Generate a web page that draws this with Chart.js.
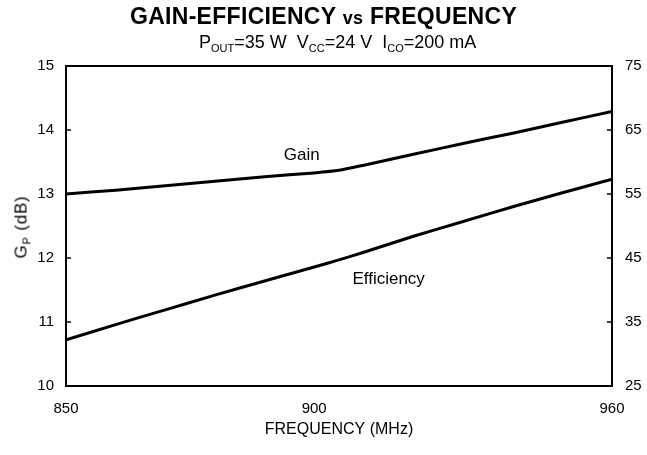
<!DOCTYPE html>
<html>
<head>
<meta charset="utf-8">
<script src="https://cdn.jsdelivr.net/npm/chart.js@4"></script>
<style>
  html, body { margin: 0; padding: 0; background: #fff; }
  #wrap { position: relative; width: 647px; height: 455px; font-family: "Liberation Sans", Arial, sans-serif; color: #000; }
  #chart { position: absolute; left: 0; top: 0; }
  #title { position: absolute; left: 0; width: 647px; top: 3px; text-align: center; font-weight: bold; font-size: 23px; letter-spacing: 0.3px; }
  #title .vs { font-size: 18px; }
  #sub { position: absolute; left: 199px; top: 32px; font-size: 18px; white-space: nowrap; }
  #sub sub { font-size: 11px; vertical-align: -4px; }
  #ytitle { position: absolute; left: 22px; top: 227px; font-size: 17px; letter-spacing: 0.8px; white-space: nowrap; transform: translate(-50%, -50%) rotate(-90deg); }
  #ytitle sub { font-size: 11px; vertical-align: -4px; }
</style>
</head>
<body>
<div id="wrap">
  <canvas id="chart" width="647" height="455"></canvas>
  <div id="title">GAIN-EFFICIENCY <span class="vs">vs</span> FREQUENCY</div>
  <div id="sub">P<sub>OUT</sub>=35 W&nbsp; V<sub>CC</sub>=24 V&nbsp; I<sub>CO</sub>=200 mA</div>
  <div id="ytitle">G<sub>P</sub> (dB)</div>
</div>
<script>
// frequency in MHz
const freq = [850, 860, 870, 880, 890, 900, 905, 910, 920, 930, 940, 950, 960];
// power gain, dB (left axis)
const gain = [13.0, 13.06, 13.13, 13.2, 13.27, 13.33, 13.37, 13.45, 13.62, 13.79, 13.95, 14.12, 14.29];
// collector efficiency, % (right axis)
const eff = [32.2, 34.6, 36.9, 39.2, 41.4, 43.6, 44.7, 45.9, 48.4, 50.7, 53.0, 55.2, 57.3];

const xTicks = [850, 900, 960];
const curveLabels = [
  { text: 'Gain', x: 897.5, y: 13.6, axis: 'y' },
  { text: 'Efficiency', x: 915, y: 41.6, axis: 'y1' }
];

const tickFont = { family: '"Liberation Sans", Arial, sans-serif', size: 15 };

// frame round the plot, inward tick marks, curve names
const framePlugin = {
  id: 'frame',
  afterDraw(chart) {
    const ctx = chart.ctx;
    const a = chart.chartArea;
    ctx.save();
    ctx.strokeStyle = '#000';
    ctx.lineWidth = 2;
    ctx.strokeRect(a.left, a.top, a.right - a.left, a.bottom - a.top);

    ctx.lineWidth = 1.5;
    const ys = chart.scales.y;
    ys.ticks.forEach(t => {
      const py = ys.getPixelForValue(t.value);
      ctx.beginPath();
      ctx.moveTo(a.left, py);
      ctx.lineTo(a.left + 5, py);
      ctx.stroke();
    });
    const y1 = chart.scales.y1;
    y1.ticks.forEach(t => {
      const py = y1.getPixelForValue(t.value);
      ctx.beginPath();
      ctx.moveTo(a.right, py);
      ctx.lineTo(a.right - 5, py);
      ctx.stroke();
    });

    ctx.fillStyle = '#000';
    ctx.font = '17px "Liberation Sans", Arial, sans-serif';
    ctx.textAlign = 'center';
    ctx.textBaseline = 'middle';
    curveLabels.forEach(l => {
      const px = chart.scales.x.getPixelForValue(l.x);
      const py = chart.scales[l.axis].getPixelForValue(l.y);
      ctx.fillText(l.text, px, py);
    });
    ctx.restore();
  }
};

new Chart(document.getElementById('chart'), {
  type: 'line',
  data: {
    datasets: [
      {
        label: 'Gain',
        data: freq.map((f, i) => ({ x: f, y: gain[i] })),
        yAxisID: 'y',
        borderColor: '#000',
        borderWidth: 3,
        pointRadius: 0,
        tension: 0.2
      },
      {
        label: 'Efficiency',
        data: freq.map((f, i) => ({ x: f, y: eff[i] })),
        yAxisID: 'y1',
        borderColor: '#000',
        borderWidth: 3,
        pointRadius: 0,
        tension: 0.2
      }
    ]
  },
  options: {
    responsive: false,
    animation: false,
    layout: { padding: { top: 66, left: 0, right: 0, bottom: 0 } },
    plugins: {
      legend: { display: false },
      tooltip: { enabled: false }
    },
    scales: {
      x: {
        type: 'linear',
        min: 850,
        max: 960,
        afterBuildTicks: s => { s.ticks = xTicks.map(v => ({ value: v })); },
        afterFit: s => { s.height = 69; },
        grid: { display: false, drawTicks: false },
        border: { display: false },
        title: {
          display: true,
          text: 'FREQUENCY (MHz)',
          color: '#000',
          font: { family: tickFont.family, size: 16 },
          padding: { top: 4, bottom: 16 }
        },
        ticks: { color: '#000', font: tickFont, padding: 14, maxRotation: 0, autoSkip: false }
      },
      y: {
        position: 'left',
        min: 10,
        max: 15,
        afterFit: s => { s.width = 66; },
        grid: { display: false, drawTicks: false },
        border: { display: false },
        ticks: { stepSize: 1, color: '#000', font: tickFont, padding: 12 }
      },
      y1: {
        position: 'right',
        min: 25,
        max: 75,
        afterFit: s => { s.width = 35; },
        grid: { display: false, drawTicks: false },
        border: { display: false },
        ticks: { stepSize: 10, color: '#000', font: tickFont, padding: 13 }
      }
    }
  },
  plugins: [framePlugin]
});
</script>
</body>
</html>
